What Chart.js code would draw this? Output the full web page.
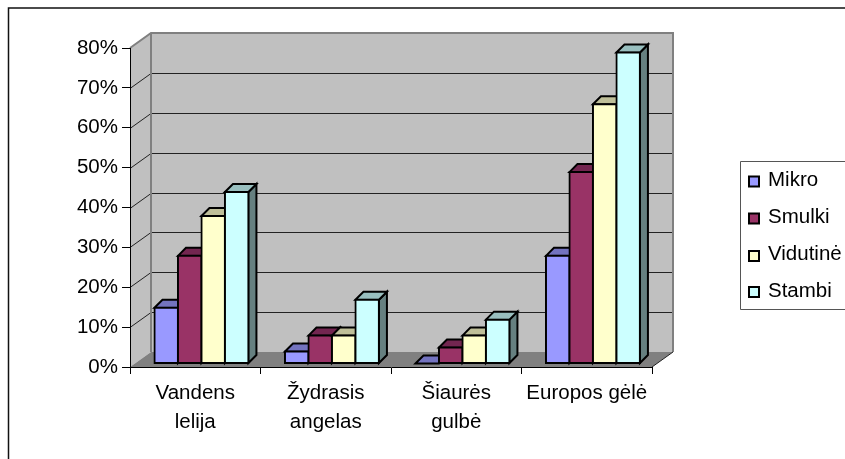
<!DOCTYPE html>
<html>
<head>
<meta charset="utf-8">
<style>
  html, body { margin: 0; padding: 0; background: #fff; overflow: hidden; }
  canvas { display: block; }
</style>
</head>
<body>
<canvas id="chart" width="845" height="459"></canvas>
<script src="https://cdn.jsdelivr.net/npm/chart.js@4/dist/chart.umd.min.js"></script>
<script>
const categories = [['Vandens', 'lelija'], ['Žydrasis', 'angelas'], ['Šiaurės', 'gulbė'], 'Europos gėlė'];
const seriesNames = ['Mikro', 'Smulki', 'Vidutinė', 'Stambi'];
const mikro = [14, 3, 0, 27];
const smulki = [27, 7, 4, 48];
const vidutine = [37, 7, 7, 65];
const stambi = [43, 16, 11, 78];
const seriesValues = [mikro, smulki, vidutine, stambi];
const seriesColors = ['#9999ff', '#993366', '#ffffcc', '#ccffff'];
const topColors = ['#7373bf', '#732650', '#bfbf99', '#99bfbf'];
const sideColors = ['#4d4d80', '#4d1a33', '#808066', '#668080'];

const FONT = { family: '"Liberation Sans", Arial, sans-serif', size: 20.5 };
const wallDepth = { x: 21, y: -15 };
const barShift = { x: 6.2, y: -3.5 };
const barDepth = { x: 8, y: -8 };

function poly(ctx, pts, fill, stroke, lw) {
  ctx.beginPath();
  pts.forEach((p, i) => i ? ctx.lineTo(p[0], p[1]) : ctx.moveTo(p[0], p[1]));
  ctx.closePath();
  if (fill) { ctx.fillStyle = fill; ctx.fill(); }
  if (stroke) { ctx.strokeStyle = stroke; ctx.lineWidth = lw; ctx.stroke(); }
}

// Excel style 3D box: walls and floor behind the bars, depth faces on each bar
const box3d = {
  id: 'box3d',
  beforeDraw(chart) {
    const { ctx, chartArea: a, scales } = chart;
    const dx = wallDepth.x, dy = wallDepth.y;
    ctx.save();
    // outer frame, only left and top are inside the picture
    ctx.strokeStyle = '#111';
    ctx.lineWidth = 1.5;
    ctx.beginPath();
    ctx.moveTo(8.5, 459);
    ctx.lineTo(8.5, 8);
    ctx.lineTo(845, 8);
    ctx.stroke();

    poly(ctx, [[a.left + dx, a.top + dy], [a.right + dx, a.top + dy], [a.right + dx, a.bottom + dy], [a.left + dx, a.bottom + dy]], '#c0c0c0');
    poly(ctx, [[a.left, a.top], [a.left + dx, a.top + dy], [a.left + dx, a.bottom + dy], [a.left, a.bottom]], '#c0c0c0');
    poly(ctx, [[a.left, a.bottom], [a.right, a.bottom], [a.right + dx, a.bottom + dy], [a.left + dx, a.bottom + dy]], '#808080');

    ctx.strokeStyle = '#222';
    ctx.lineWidth = 1;
    scales.y.ticks.forEach(t => {
      if (t.value === 0 || t.value === 80) return;
      const y = Math.round(scales.y.getPixelForValue(t.value)) + 0.5;
      ctx.beginPath();
      ctx.moveTo(a.left, y);
      ctx.lineTo(a.left + dx, y + dy);
      ctx.lineTo(a.right + dx, y + dy);
      ctx.stroke();
    });

    ctx.strokeStyle = '#808080';
    ctx.lineWidth = 2;
    ctx.beginPath();
    ctx.moveTo(a.left, a.top);
    ctx.lineTo(a.left + dx, a.top + dy);
    ctx.lineTo(a.right + dx, a.top + dy);
    ctx.lineTo(a.right + dx, a.bottom + dy);
    ctx.moveTo(a.left + dx, a.top + dy);
    ctx.lineTo(a.left + dx, a.bottom + dy);
    ctx.stroke();

    ctx.strokeStyle = '#222';
    ctx.lineWidth = 1;
    ctx.beginPath();
    ctx.moveTo(a.right, a.bottom);
    ctx.lineTo(a.right + dx, a.bottom + dy);
    ctx.stroke();
    ctx.restore();
  },
  // the library paints the last dataset first, here each bar has to cover the side of the one before
  beforeDatasetDraw() {
    return false;
  },
  afterDatasetsDraw(chart) {
    const ctx = chart.ctx;
    const dx = barDepth.x, dy = barDepth.y;
    ctx.save();
    ctx.translate(barShift.x, barShift.y);
    seriesNames.forEach((name, i) => {
      const meta = chart.getDatasetMeta(i);
      meta.data.forEach(bar => {
        const l = bar.x - bar.width / 2, r = bar.x + bar.width / 2;
        poly(ctx, [[r, bar.y], [r + dx, bar.y + dy], [r + dx, bar.base + dy], [r, bar.base]], sideColors[i], '#000', 2);
        poly(ctx, [[l, bar.y], [l + dx, bar.y + dy], [r + dx, bar.y + dy], [r, bar.y]], topColors[i], '#000', 2);
      });
      meta.controller.draw();
    });
    ctx.restore();
  },
  afterDraw(chart) {
    const ctx = chart.ctx;
    ctx.save();
    ctx.strokeStyle = '#555';
    ctx.lineWidth = 1;
    ctx.beginPath();
    ctx.moveTo(845, 161.5);
    ctx.lineTo(740.5, 161.5);
    ctx.lineTo(740.5, 309.5);
    ctx.lineTo(845, 309.5);
    ctx.stroke();
    ctx.font = FONT.size + 'px ' + FONT.family;
    ctx.textBaseline = 'middle';
    const swatchTops = [176.5, 213.5, 251, 287];
    const textRows = [180, 217.5, 254, 291];
    seriesNames.forEach((name, i) => {
      ctx.fillStyle = seriesColors[i];
      ctx.strokeStyle = '#000';
      ctx.lineWidth = 2;
      ctx.fillRect(749, swatchTops[i], 10, 10);
      ctx.strokeRect(749, swatchTops[i], 10, 10);
      ctx.fillStyle = '#000';
      ctx.fillText(name, 768, textRows[i]);
    });
    ctx.restore();
  }
};

new Chart(document.getElementById('chart'), {
  type: 'bar',
  data: {
    labels: categories,
    datasets: seriesNames.map((name, i) => ({
      label: name,
      data: seriesValues[i],
      backgroundColor: seriesColors[i],
      borderColor: '#000',
      borderWidth: 2,
      borderSkipped: false,
      inflateAmount: 1,
      barPercentage: 1,
      categoryPercentage: 0.72,
      clip: false
    }))
  },
  options: {
    responsive: false,
    animation: false,
    layout: { padding: { left: 0, top: 48, right: 193, bottom: 0 } },
    plugins: { legend: { display: false }, tooltip: { enabled: false } },
    scales: {
      x: {
        afterFit: s => { s.height = 92; },
        border: { color: '#000', width: 1 },
        grid: { drawOnChartArea: false, color: '#000', tickLength: 7 },
        ticks: { color: '#000', font: { ...FONT, lineHeight: 1.42 }, maxRotation: 0, autoSkip: false, padding: 5 }
      },
      y: {
        min: 0,
        max: 80,
        afterFit: s => { s.width = 130; },
        border: { color: '#000', width: 1 },
        grid: { drawOnChartArea: false, color: '#000', tickLength: 8 },
        ticks: { color: '#000', font: FONT, stepSize: 10, padding: 4, callback: v => v + '%' }
      }
    }
  },
  plugins: [box3d]
});
</script>
</body>
</html>
